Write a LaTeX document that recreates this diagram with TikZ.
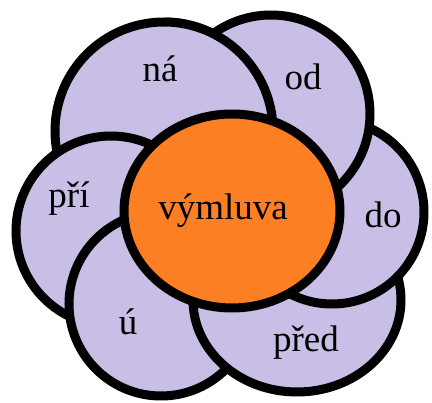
\documentclass[tikz,border=0pt]{standalone}
\usepackage{fontspec}
\setmainfont{Liberation Serif}
\definecolor{lavender}{RGB}{200,190,230}
\definecolor{peel}{RGB}{253,127,35}
\tikzset{
  petal/.style={draw=black,line width=9pt,fill=lavender},
  word/.style={font=\fontsize{37}{40}\selectfont,anchor=base,inner sep=0pt}
}
\begin{document}
\begin{tikzpicture}[x=1pt,y=-1pt]
\useasboundingbox (0,0) rectangle (432,403);

% petals, na at the bottom
\draw[petal] (164,131) circle [radius=109pt];
\draw[petal] (111,231) circle [radius=95pt];
\draw[petal] (161,304) circle [radius=92pt];
\draw[petal] (297,300) ellipse [x radius=104pt,y radius=92pt];
\draw[petal] (332,212) circle [radius=92pt];
\draw[petal] (271,114) circle [radius=99pt];

% na goes over od again
\begin{scope}
\clip (165,0) rectangle (300,150);
\draw[petal] (164,131) circle [radius=109pt];
\end{scope}

\draw[draw=black,line width=9pt,fill=peel] (232,211) ellipse [x radius=108pt,y radius=97pt];

\node[word] (na) at (160,82) {ná};
\node[word] (od) at (303,90) {od};
\node[word] (pri) at (69,208) {pří};
\node[word] (vymluva) at (223,220) {výmluva};
\node[word] (do) at (383,228) {do};
\node[word] (u) at (128,335) {ú};
\node[word] (pred) at (306,352) {před};

\end{tikzpicture}
\end{document}
